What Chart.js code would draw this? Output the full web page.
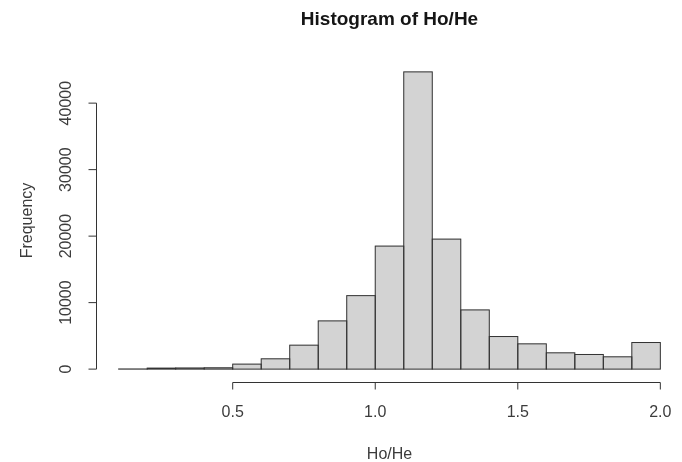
<!DOCTYPE html>
<html>
<head>
<meta charset="utf-8">
<script src="https://cdn.jsdelivr.net/npm/chart.js@4"></script>
<style>
  html, body { margin: 0; padding: 0; background: #ffffff; }
  #wrap { width: 682px; height: 462px; position: relative; }
</style>
</head>
<body>
<div id="wrap"><canvas id="hist"></canvas></div>
<script>
// Histogram bins (left edges) and their counts
const binStarts = [0.1, 0.2, 0.3, 0.4, 0.5, 0.6, 0.7, 0.8, 0.9, 1.0,
                   1.1, 1.2, 1.3, 1.4, 1.5, 1.6, 1.7, 1.8, 1.9];
const binWidth = 0.1;
const counts = [20, 150, 170, 200, 750, 1550, 3600, 7250, 11050, 18500,
                44700, 19550, 8900, 4900, 3800, 2450, 2200, 1850, 4000];

// Axis ticks
const xTicks = [0.5, 1.0, 1.5, 2.0];
const xTickLabels = ['0.5', '1.0', '1.5', '2.0'];
const yTicks = [0, 10000, 20000, 30000, 40000];
const yTickLabels = ['0', '10000', '20000', '30000', '40000'];

// Text
const mainTitle = 'Histogram of Ho/He';
const xTitle = 'Ho/He';
const yTitle = 'Frequency';

// Axis ranges padded by 4% on each side, as base R graphics does
const xLo = binStarts[0];
const xHi = binStarts[binStarts.length - 1] + binWidth;
const xPad = (xHi - xLo) * 0.04;
const yHi = Math.max(...counts);
const yPad = yHi * 0.04;

const points = binStarts.map((s, i) => ({ x: s + binWidth / 2, y: counts[i] }));

const FONT = '"Liberation Sans", Arial, sans-serif';
const LINE = '#333333';
const TEXT = '#3c3c3c';

// Draws bar outlines, axes, tick labels and titles in the base R style
const rStyle = {
  id: 'rStyle',
  afterDatasetsDraw(chart) {
    const ctx = chart.ctx;
    const meta = chart.getDatasetMeta(0);
    ctx.save();
    ctx.strokeStyle = LINE;
    ctx.lineWidth = 1;
    meta.data.forEach(bar => {
      const p = bar.getProps(['x', 'y', 'base', 'width'], true);
      const left = p.x - p.width / 2;
      ctx.strokeRect(left, p.y, p.width, p.base - p.y);
    });
    ctx.restore();
  },
  afterDraw(chart) {
    const ctx = chart.ctx;
    const area = chart.chartArea;
    const xs = chart.scales.x;
    const ys = chart.scales.y;
    ctx.save();
    ctx.strokeStyle = LINE;
    ctx.fillStyle = TEXT;
    ctx.lineWidth = 1;

    // x axis
    const axY = Math.round(area.bottom) + 1.5;
    const x0 = xs.getPixelForValue(xTicks[0]);
    const x1 = xs.getPixelForValue(xTicks[xTicks.length - 1]);
    ctx.beginPath();
    ctx.moveTo(x0, axY); ctx.lineTo(x1, axY);
    xTicks.forEach(v => {
      const px = xs.getPixelForValue(v);
      ctx.moveTo(px, axY); ctx.lineTo(px, axY + 7);
    });
    ctx.stroke();
    ctx.font = '16px ' + FONT;
    ctx.textAlign = 'center';
    ctx.textBaseline = 'middle';
    xTicks.forEach((v, i) => {
      ctx.fillText(xTickLabels[i], xs.getPixelForValue(v), axY + 30.5);
    });

    // y axis
    const axX = Math.round(area.left) - 0.5;
    const y0 = ys.getPixelForValue(yTicks[0]);
    const y1 = ys.getPixelForValue(yTicks[yTicks.length - 1]);
    ctx.beginPath();
    ctx.moveTo(axX, y0); ctx.lineTo(axX, y1);
    yTicks.forEach(v => {
      const py = ys.getPixelForValue(v);
      ctx.moveTo(axX, py); ctx.lineTo(axX - 8, py);
    });
    ctx.stroke();
    yTicks.forEach((v, i) => {
      ctx.save();
      ctx.translate(axX - 29.5, ys.getPixelForValue(v));
      ctx.rotate(-Math.PI / 2);
      ctx.fillText(yTickLabels[i], 0, 0);
      ctx.restore();
    });

    // axis titles
    const midX = (area.left + area.right) / 2;
    const midY = (area.top + area.bottom) / 2;
    ctx.fillText(xTitle, midX, axY + 72);
    ctx.save();
    ctx.translate(28, midY);
    ctx.rotate(-Math.PI / 2);
    ctx.fillText(yTitle, 0, 0);
    ctx.restore();

    // main title
    ctx.fillStyle = '#151515';
    ctx.font = 'bold 19px ' + FONT;
    ctx.fillText(mainTitle, midX, 20);
    ctx.restore();
  }
};

new Chart(document.getElementById('hist'), {
  type: 'bar',
  data: {
    datasets: [{
      data: points,
      backgroundColor: '#d3d3d3',
      borderWidth: 0,
      barPercentage: 1,
      categoryPercentage: 1
    }]
  },
  options: {
    responsive: true,
    maintainAspectRatio: false,
    animation: false,
    events: [],
    layout: { padding: { left: 97, right: 0, top: 60, bottom: 81 } },
    plugins: {
      legend: { display: false },
      title: { display: false },
      tooltip: { enabled: false }
    },
    scales: {
      x: {
        type: 'linear',
        display: false,
        offset: false,
        min: xLo - xPad,
        max: xHi + xPad
      },
      y: {
        type: 'linear',
        display: false,
        min: -yPad,
        max: yHi + yPad
      }
    }
  },
  plugins: [rStyle]
});
</script>
</body>
</html>
